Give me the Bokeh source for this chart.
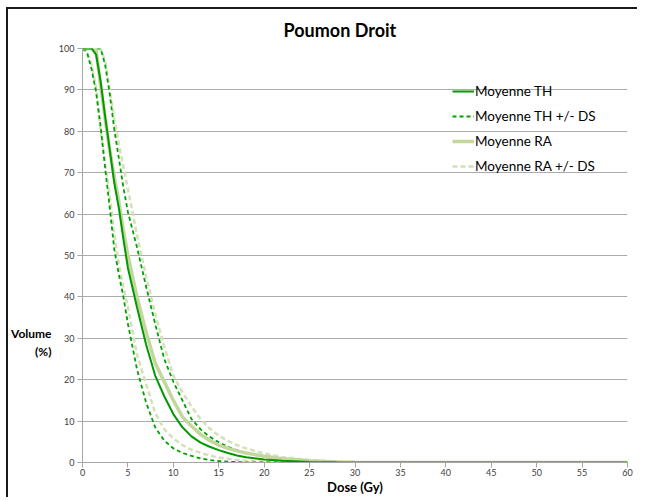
from bokeh.plotting import figure
from bokeh.models import Legend, LegendItem, Title, FixedTicker, LinearAxis
from bokeh.embed import file_html
from bokeh.resources import INLINE

dose = [0, 0.5, 1, 1.5, 2, 2.5, 3, 3.5, 4, 4.5, 5, 6, 7, 8, 9, 10, 11, 12, 13, 14,
        15, 16, 17, 18, 20, 22, 25, 28, 30, 35, 40, 45, 50, 55, 60]

th_mean = [100, 100, 100, 98.5, 92, 83.5, 75.5, 67.5, 61.5, 54, 47, 37.5, 28.5, 21, 16, 11.7,
           8.5, 6.3, 4.8, 3.8, 3.0, 2.3, 1.7, 1.25, 0.7, 0.4, 0.15, 0.05, 0.02, 0, 0, 0, 0, 0, 0]
th_plus = [100, 100, 100, 100, 100, 96, 89, 80.5, 73.5, 66.5, 60.5, 52, 42.5, 33.5, 25, 19.5,
           15, 10.5, 8, 6.2, 4.9, 3.8, 3.0, 2.3, 1.4, 0.8, 0.3, 0.08, 0.02, 0, 0, 0, 0, 0, 0]
th_minus = [100, 99, 95, 89.5, 81, 71, 61.5, 51.5, 45.5, 40, 33.5, 22.5, 14.5, 8.5, 5.3, 3.4,
            2.3, 1.6, 1.0, 0.6, 0.35, 0.2, 0.1, 0.05, 0, 0, 0, 0, 0, 0, 0, 0, 0, 0, 0]
ra_mean = [100, 100, 100, 99.5, 91, 83, 75.5, 69, 63, 56, 50, 40, 31.5, 24, 19.5, 15,
           11, 8.8, 6.8, 5.3, 4.2, 3.4, 2.8, 2.3, 1.5, 0.9, 0.4, 0.15, 0.05, 0, 0, 0, 0, 0, 0]
ra_plus = [100, 100, 100, 100, 100, 97, 90, 83, 77, 71.5, 66, 55, 45, 36, 28, 21,
           17, 13.5, 10.5, 8.2, 6.5, 5.2, 4.2, 3.4, 2.2, 1.3, 0.6, 0.2, 0.08, 0, 0, 0, 0, 0, 0]
ra_minus = [100, 99.5, 96, 90.5, 80, 72, 64.5, 55, 48, 42.5, 37.5, 26, 19, 12, 8, 5.8,
            4.2, 3.1, 2.3, 1.7, 1.2, 0.9, 0.6, 0.4, 0.15, 0.05, 0, 0, 0, 0, 0, 0, 0, 0, 0]

x_ticks = list(range(0, 61, 5))
y_ticks = list(range(0, 101, 10))
y_title_pos = 29
y_title_text = "Volume\n(%)"

FONT = "Lato"

p = figure(frame_width=545, frame_height=414, x_range=(0, 60), y_range=(0, 100),
           output_backend="svg", toolbar_location=None,
           min_border_left=74, min_border_right=10, min_border_top=38, min_border_bottom=34)
p.outline_line_color = None
p.background_fill_color = "white"
p.border_fill_color = "white"

p.title = Title(text="Poumon Droit", align="left", offset=201, standoff=15,
                text_font=FONT, text_font_size="18px", text_font_style="bold",
                text_color="#000000")

C_TH = "#009a00"
C_TH_D = "#00a000"
C_RA = "#c3d69b"
C_RA_D = "#d3e1b8"

r_ra_plus = p.line(dose, ra_plus, line_color=C_RA_D, line_width=2.5, line_dash="5 3")
r_ra_minus = p.line(dose, ra_minus, line_color=C_RA_D, line_width=2.5, line_dash="5 3")
r_th_plus = p.line(dose, th_plus, line_color=C_TH_D, line_width=1.8, line_dash="4 3")
r_th_minus = p.line(dose, th_minus, line_color=C_TH_D, line_width=1.8, line_dash="4 3")
r_ra = p.line(dose, ra_mean, line_color=C_RA, line_width=3.5)
r_th = p.line(dose, th_mean, line_color=C_TH, line_width=2)

legend = Legend(items=[
    LegendItem(label="Moyenne TH", renderers=[r_th]),
    LegendItem(label="Moyenne TH +/- DS", renderers=[r_th_plus]),
    LegendItem(label="Moyenne RA", renderers=[r_ra]),
    LegendItem(label="Moyenne RA +/- DS", renderers=[r_ra_plus]),
], location=(370, 286))
legend.background_fill_alpha = 0
legend.border_line_color = None
legend.padding = 0
legend.margin = 0
legend.spacing = 5
legend.glyph_width = 22
legend.glyph_height = 20
legend.label_height = 20
legend.label_standoff = 1
legend.label_text_font = FONT
legend.label_text_font_size = "13.5px"
legend.label_text_color = "#000000"
p.add_layout(legend)

p.xaxis.ticker = FixedTicker(ticks=x_ticks)
p.yaxis.ticker = FixedTicker(ticks=y_ticks)
for ax in (p.xaxis, p.yaxis):
    ax.axis_line_color = "#a6a6a6"
    ax.major_tick_line_color = "#a6a6a6"
    ax.major_tick_out = 5
    ax.major_tick_in = 0
    ax.minor_tick_line_color = None
    ax.minor_tick_out = 0
    ax.minor_tick_in = 0
    ax.major_label_text_font = FONT
    ax.major_label_text_font_size = "9px"
    ax.major_label_text_color = "#404040"
    ax.major_label_standoff = 3
p.xaxis.major_label_standoff = 1
p.xaxis.axis_label = "Dose (Gy)"
p.xaxis.axis_label_text_font = FONT
p.xaxis.axis_label_text_font_size = "13px"
p.xaxis.axis_label_text_font_style = "bold"
p.xaxis.axis_label_standoff = 0
p.xaxis.axis_label_text_color = "#000000"

# horizontal y title, drawn as a label-only axis on the left
ytitle = LinearAxis(ticker=FixedTicker(ticks=[y_title_pos]),
                    major_label_overrides={y_title_pos: y_title_text})
ytitle.axis_line_color = None
ytitle.major_tick_line_color = None
ytitle.minor_tick_line_color = None
ytitle.major_tick_out = 0
ytitle.major_tick_in = 0
ytitle.minor_tick_out = 0
ytitle.minor_tick_in = 0
ytitle.major_label_text_font = FONT
ytitle.major_label_text_font_size = "12px"
ytitle.major_label_text_font_style = "bold"
ytitle.major_label_text_color = "#000000"
ytitle.major_label_standoff = 4
p.add_layout(ytitle, "left")

p.xgrid.grid_line_color = None
p.ygrid.grid_line_color = "#ababab"
p.ygrid.grid_line_width = 1

p.styles = {"margin-left": "6px", "margin-top": "7px",
            "border-left": "2px solid #1a1a1a", "border-top": "2px solid #1a1a1a"}

open("out.html", "w").write(file_html(p, INLINE))
